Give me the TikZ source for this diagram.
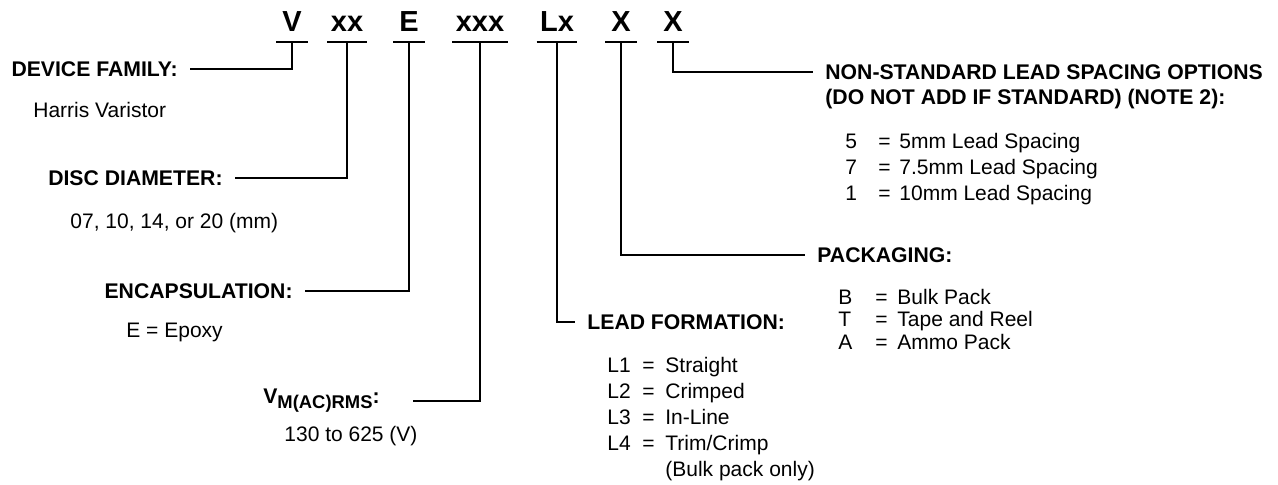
\documentclass[tikz,border=0pt]{standalone}
\usepackage{fontspec}
\setmainfont{Liberation Sans}
\usetikzlibrary{positioning}

\begin{document}
\begin{tikzpicture}[
x=0.5pt, y=-0.5pt,
code/.style={font=\fontsize{14.5}{14.5}\selectfont\bfseries, anchor=south, inner xsep=1.5pt, inner ysep=5pt, text depth=0pt, minimum width=15.5pt},
head/.style={font=\fontsize{10.6}{12}\selectfont\bfseries, inner xsep=6pt, inner ysep=0pt, text height=7.5pt, text depth=0pt},
body/.style={font=\fontsize{10.5}{12}\selectfont, anchor=west, inner sep=0pt, text height=7.5pt, text depth=0pt},
lead/.style={line width=1.4pt}
]
\useasboundingbox (0,0) rectangle (1278,485);

% part number code
\node[code] (vfam) at (292,42) {V};
\node[code] (vdia) at (347,42) {xx};
\node[code] (venc) at (409,42) {E};
\node[code] (vvolt) at (480,42) {xxx};
\node[code] (vlead) at (557,42) {Lx};
\node[code] (vpack) at (621,42) {X};
\node[code] (vspace) at (673,42) {X};
\foreach \n in {vfam,vdia,venc,vvolt,vlead,vpack,vspace}
  \draw[lead] (\n.south west) -- (\n.south east);

% headings
\node[head, anchor=east] (hfam) at (190,69) {DEVICE FAMILY:};
\node[head, anchor=east] (hdia) at (235,178) {DISC DIAMETER:};
\node[head, anchor=east] (henc) at (305,291) {ENCAPSULATION:};
\node[head, anchor=east, inner xsep=16.5pt, text depth=5.4pt] (hvolt) at (413,401)
  {V\raisebox{-2.5pt}{\fontsize{9.2}{9}\selectfont M(AC)RMS}:};
\node[head, anchor=west] (hlead) at (575,322) {LEAD FORMATION:};
\node[head, anchor=west] (hpack) at (805,255) {PACKAGING:};
\node[head, anchor=west] (hspace) at (813,72) {NON-STANDARD LEAD SPACING OPTIONS};
\node[head, anchor=west] (hspace2) at (813,97) {(DO NOT ADD IF STANDARD) (NOTE 2):};

% connectors
\draw[lead] (vfam.south) |- (hfam.east);
\draw[lead] (vdia.south) |- (hdia.east);
\draw[lead] (venc.south) |- (henc.east);
\draw[lead] (vvolt.south) |- (hvolt.east);
\draw[lead] (vlead.south) |- (hlead.west);
\draw[lead] (vpack.south) |- (hpack.west);
\draw[lead] (vspace.south) |- (hspace.west);

% values
\node[body] (tfam) at (33,110) {Harris Varistor};
\node[body] (tdia) at (70,221) {07, 10, 14, or 20 (mm)};
\node[body] (tenc) at (126,330) {E = Epoxy};
\node[body] (tvolt) at (284,434) {130 to 625 (V)};

\foreach \k/\v [count=\i from 0] in {L1/Straight, L2/Crimped, L3/In-Line, L4/{Trim/Crimp}} {
  \node[body] (lk\i) at (607,{365+26*\i}) {\k};
  \node[body] (le\i) at (642,{365+26*\i}) {=};
  \node[body] (lv\i) at (665,{365+26*\i}) {\v};
}
\node[body] (lnote) at (665,469) {(Bulk pack only)};

\foreach \k/\v [count=\i from 0] in {B/Bulk Pack, T/Tape and Reel, A/Ammo Pack} {
  \node[body] (pk\i) at (838,{297+22.5*\i}) {\k};
  \node[body] (pe\i) at (875,{297+22.5*\i}) {=};
  \node[body] (pv\i) at (897,{297+22.5*\i}) {\v};
}

\foreach \k/\v [count=\i from 0] in {5/5mm Lead Spacing, 7/7.5mm Lead Spacing, 1/10mm Lead Spacing} {
  \node[body] (sk\i) at (845,{141+26*\i}) {\k};
  \node[body] (se\i) at (878,{141+26*\i}) {=};
  \node[body] (sv\i) at (899,{141+26*\i}) {\v};
}
\end{tikzpicture}
\end{document}
